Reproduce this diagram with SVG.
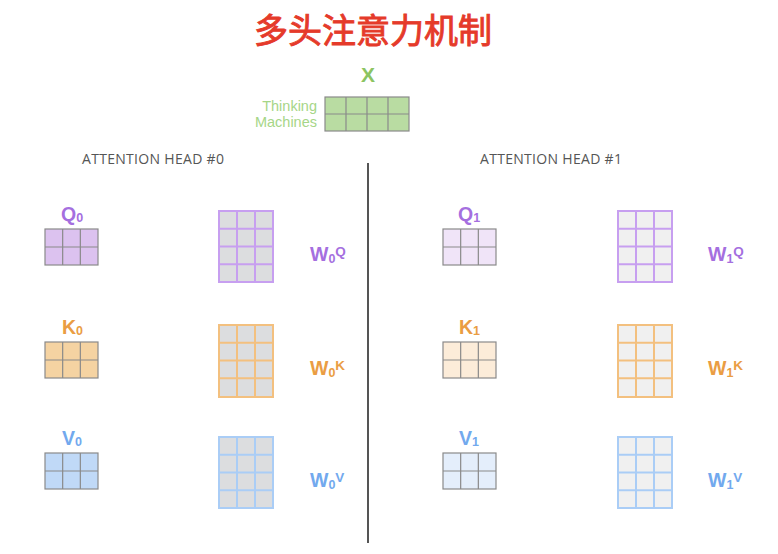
<svg xmlns="http://www.w3.org/2000/svg" xmlns:xlink="http://www.w3.org/1999/xlink" width="778" height="554" viewBox="0 0 778 554">
<style>
.lbl{font-family:"Liberation Sans",Arial,sans-serif;font-weight:bold}
.hdr{font-family:"Open Sans","Liberation Sans",sans-serif;font-size:14px;fill:#555;letter-spacing:0.3px}
.sm{stroke:#8a8a8a;stroke-width:1.2}
.pu{fill:#a56fdf}.or{fill:#ea9d43}.bl{fill:#72a9ee}
.wpu{stroke:#c79ff0;stroke-width:2}.wor{stroke:#f3c07f;stroke-width:2}.wbl{stroke:#aacdf6;stroke-width:2}
.g0{fill:#dcdddf}.g1{fill:#f0f0f0}
</style>
<defs>
<path id="sg" d="M17.67 0V36M35.33 0V36M0 18H53" fill="none"/>
<path id="wg" d="M18 0V71M36 0V71M0 17.75H54M0 35.5H54M0 53.25H54" fill="none"/>
</defs>
<rect width="778" height="554" fill="#fff"/>
<text x="373" y="43" text-anchor="middle" font-family="'Noto Sans CJK SC',sans-serif" font-size="34" fill="#e53a2a" stroke="#e53a2a" stroke-width="0.9">多头注意力机制</text>

<g id="x-input">
<text x="368" y="82" text-anchor="middle" class="lbl" font-size="21" fill="#8cc462">X</text>
<text x="317" y="111" text-anchor="end" font-family="'Liberation Sans',Arial,sans-serif" font-size="14.5" fill="#a6d687">Thinking</text>
<text x="317" y="127" text-anchor="end" font-family="'Liberation Sans',Arial,sans-serif" font-size="14.5" fill="#a6d687">Machines</text>
<rect x="325" y="97" width="84" height="34" fill="#b9dca2" stroke="#8a8a8a" stroke-width="1.2"/>
<path d="M346 97V131M367 97V131M388 97V131M325 114H409" stroke="#8a8a8a" stroke-width="1.2" fill="none"/>
</g>

<g id="connectors">
<line x1="368" y1="163" x2="368" y2="543" stroke="#555" stroke-width="2"/>
</g>

<text x="82" y="164" class="hdr">ATTENTION HEAD #0</text>
<text x="480" y="164" class="hdr">ATTENTION HEAD #1</text>

<!-- Head 0 -->
<g id="q0">
<text x="61" y="221" class="lbl pu" font-size="19.5">Q<tspan font-size="12.5" dy="1">0</tspan></text>
<rect x="45" y="229" width="53" height="36" fill="#dcc2ef" class="sm"/>
<use xlink:href="#sg" x="45" y="229" class="sm"/>
</g>
<g id="w0q">
<rect x="219" y="211" width="54" height="71" class="g0 wpu"/>
<use xlink:href="#wg" x="219" y="211" class="wpu"/>
<text x="310" y="261" class="lbl pu" font-size="19.5">W<tspan font-size="12.5" dy="2">0</tspan><tspan font-size="13.5" dy="-7">Q</tspan></text>
</g>
<g id="k0">
<text x="62" y="334" class="lbl or" font-size="19.5">K<tspan font-size="12.5" dy="1">0</tspan></text>
<rect x="45" y="342" width="53" height="36" fill="#f5d3a2" class="sm"/>
<use xlink:href="#sg" x="45" y="342" class="sm"/>
</g>
<g id="w0k">
<rect x="219" y="325" width="54" height="72" class="g0 wor"/>
<use xlink:href="#wg" x="219" y="325" class="wor"/>
<text x="310" y="375" class="lbl or" font-size="19.5">W<tspan font-size="12.5" dy="2">0</tspan><tspan font-size="13.5" dy="-7">K</tspan></text>
</g>
<g id="v0">
<text x="62" y="445" class="lbl bl" font-size="19.5">V<tspan font-size="12.5" dy="1">0</tspan></text>
<rect x="45" y="453" width="53" height="36" fill="#c0d9f7" class="sm"/>
<use xlink:href="#sg" x="45" y="453" class="sm"/>
</g>
<g id="w0v">
<rect x="219" y="437" width="54" height="71" class="g0 wbl"/>
<use xlink:href="#wg" x="219" y="437" class="wbl"/>
<text x="310" y="487" class="lbl bl" font-size="19.5">W<tspan font-size="12.5" dy="2">0</tspan><tspan font-size="13.5" dy="-7">V</tspan></text>
</g>

<!-- Head 1 -->
<g id="q1">
<text x="458" y="221" class="lbl pu" font-size="19.5">Q<tspan font-size="12.5" dy="1">1</tspan></text>
<rect x="443" y="229" width="53" height="36" fill="#f0e4f8" class="sm"/>
<use xlink:href="#sg" x="443" y="229" class="sm"/>
</g>
<g id="w1q">
<rect x="618" y="211" width="54" height="71" class="g1 wpu"/>
<use xlink:href="#wg" x="618" y="211" class="wpu"/>
<text x="708" y="261" class="lbl pu" font-size="19.5">W<tspan font-size="12.5" dy="2">1</tspan><tspan font-size="13.5" dy="-7">Q</tspan></text>
</g>
<g id="k1">
<text x="459" y="334" class="lbl or" font-size="19.5">K<tspan font-size="12.5" dy="1">1</tspan></text>
<rect x="443" y="342" width="53" height="36" fill="#fcecd9" class="sm"/>
<use xlink:href="#sg" x="443" y="342" class="sm"/>
</g>
<g id="w1k">
<rect x="618" y="325" width="54" height="72" class="g1 wor"/>
<use xlink:href="#wg" x="618" y="325" class="wor"/>
<text x="708" y="375" class="lbl or" font-size="19.5">W<tspan font-size="12.5" dy="2">1</tspan><tspan font-size="13.5" dy="-7">K</tspan></text>
</g>
<g id="v1">
<text x="459" y="445" class="lbl bl" font-size="19.5">V<tspan font-size="12.5" dy="1">1</tspan></text>
<rect x="443" y="453" width="53" height="36" fill="#e4eefb" class="sm"/>
<use xlink:href="#sg" x="443" y="453" class="sm"/>
</g>
<g id="w1v">
<rect x="618" y="437" width="54" height="71" class="g1 wbl"/>
<use xlink:href="#wg" x="618" y="437" class="wbl"/>
<text x="708" y="487" class="lbl bl" font-size="19.5">W<tspan font-size="12.5" dy="2">1</tspan><tspan font-size="13.5" dy="-7">V</tspan></text>
</g>
</svg>
